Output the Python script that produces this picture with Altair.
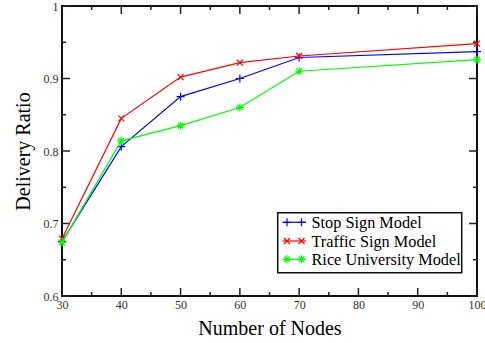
import altair as alt
import pandas as pd

nodes = [30, 40, 50, 60, 70, 100]
stop_sign = [0.675, 0.806, 0.875, 0.900, 0.929, 0.937]
traffic_sign = [0.679, 0.845, 0.902, 0.922, 0.931, 0.948]
rice_univ = [0.674, 0.814, 0.835, 0.860, 0.910, 0.926]
series_names = ["Stop Sign Model", "Traffic Sign Model", "Rice University Model"]
series_values = [stop_sign, traffic_sign, rice_univ]
series_colors = ["#0000ff", "#ff0000", "#00ff00"]

x_major = [30, 40, 50, 60, 70, 80, 90, 100]
x_minor = [35, 45, 55, 65, 75, 85, 95]
y_major = [0.6, 0.7, 0.8, 0.9, 1.0]
y_minor = [0.65, 0.75, 0.85, 0.95]

PLUS = "M-1,0L1,0M0,-1L0,1"
CROSS = "M-0.75,-0.75L0.75,0.75M-0.75,0.75L0.75,-0.75"
STAR = "M-1,0L1,0M0,-1L0,1M-0.72,-0.72L0.72,0.72M-0.72,0.72L0.72,-0.72"
series_shapes = [PLUS, CROSS, STAR]

W, H = 415, 290
FONT = "Liberation Serif"

xscale = alt.Scale(domain=[30, 100], nice=False, zero=False)
yscale = alt.Scale(domain=[0.6, 1.0], nice=False, zero=False)
xaxis = alt.Axis(values=x_major, format="d", ticks=False, domain=False, grid=False,
                 labelFlush=False, labelOverlap=False,
                 labelFont=FONT, labelFontSize=12, labelColor="#333", labelPadding=3,
                 title="Number of Nodes", titleFont=FONT, titleFontSize=20,
                 titleFontWeight="normal", titleColor="#000", titlePadding=8)
yaxis = alt.Axis(values=y_major, format=".1~f", ticks=False, domain=False, grid=False,
                 labelFlush=False, labelOverlap=False,
                 labelFont=FONT, labelFontSize=12, labelColor="#333", labelPadding=4,
                 title="Delivery Ratio", titleFont=FONT, titleFontSize=20,
                 titleFontWeight="normal", titleColor="#000", titlePadding=10)

X = lambda: alt.X("x:Q", scale=xscale, axis=xaxis)
Y = lambda: alt.Y("y:Q", scale=yscale, axis=yaxis)

layers = []
one = pd.DataFrame({"k": [0]})

# frame
layers.append(alt.Chart(one).mark_rect(fill=None, stroke="#111", strokeWidth=2).encode(
    x=alt.value(0), x2=alt.value(W), y=alt.value(0), y2=alt.value(H)))

# ticks
xt_major = pd.DataFrame({"x": x_major})
xt_minor = pd.DataFrame({"x": x_minor})
yt_major = pd.DataFrame({"y": y_major})
yt_minor = pd.DataFrame({"y": y_minor})
tick_color = "#222"
for df, ln in [(xt_major, 8), (xt_minor, 4)]:
    layers.append(alt.Chart(df).mark_rule(color=tick_color, strokeWidth=1.5).encode(
        x=X(), y=alt.value(H), y2=alt.value(H - ln)))
    layers.append(alt.Chart(df).mark_rule(color=tick_color, strokeWidth=1.5).encode(
        x=X(), y=alt.value(0), y2=alt.value(ln)))
for df, ln in [(yt_major, 8), (yt_minor, 4)]:
    layers.append(alt.Chart(df).mark_rule(color=tick_color, strokeWidth=1.5).encode(
        y=Y(), x=alt.value(0), x2=alt.value(ln)))
    layers.append(alt.Chart(df).mark_rule(color=tick_color, strokeWidth=1.5).encode(
        y=Y(), x=alt.value(W), x2=alt.value(W - ln)))

# series
for name, vals, col, shp in zip(series_names, series_values, series_colors, series_shapes):
    df = pd.DataFrame({"x": nodes, "y": vals, "s": name})
    layers.append(alt.Chart(df).mark_line(color=col, strokeWidth=1.2, clip=False).encode(x=X(), y=Y()))
    layers.append(alt.Chart(df).mark_point(shape=shp, color=col, filled=False, size=64,
                                           strokeWidth=1.2, opacity=1, clip=False).encode(x=X(), y=Y()))

# legend
layers.append(alt.Chart(one).mark_rect(fill="white", stroke="#111", strokeWidth=1.5).encode(
    x=alt.value(215.7), x2=alt.value(399.7), y=alt.value(206.7), y2=alt.value(266.7)))
row_y = [216.3, 235, 253.3]
for name, col, shp, ry in zip(series_names, series_colors, series_shapes, row_y):
    layers.append(alt.Chart(one).mark_rule(color=col, strokeWidth=1.2).encode(
        x=alt.value(220.5), x2=alt.value(244), y=alt.value(ry)))
    for mx in [225, 239.5]:
        layers.append(alt.Chart(one).mark_point(shape=shp, color=col, filled=False, size=64,
                                                strokeWidth=1.2, opacity=1).encode(
            x=alt.value(mx), y=alt.value(ry)))
    layers.append(alt.Chart(one).mark_text(align="left", baseline="middle", font=FONT,
                                           fontSize=16.3, color="#000").encode(
        x=alt.value(249.5), y=alt.value(ry + 1), text=alt.value(name)))

chart = alt.layer(*layers).properties(
    width=W, height=H,
    autosize=alt.AutoSizeParams(type="none"),
    padding={"left": 62, "top": 6, "right": 8, "bottom": 47},
).configure_view(stroke=None).configure(background="white")

chart.save("out.html", embed_options={"renderer": "svg", "actions": False})
